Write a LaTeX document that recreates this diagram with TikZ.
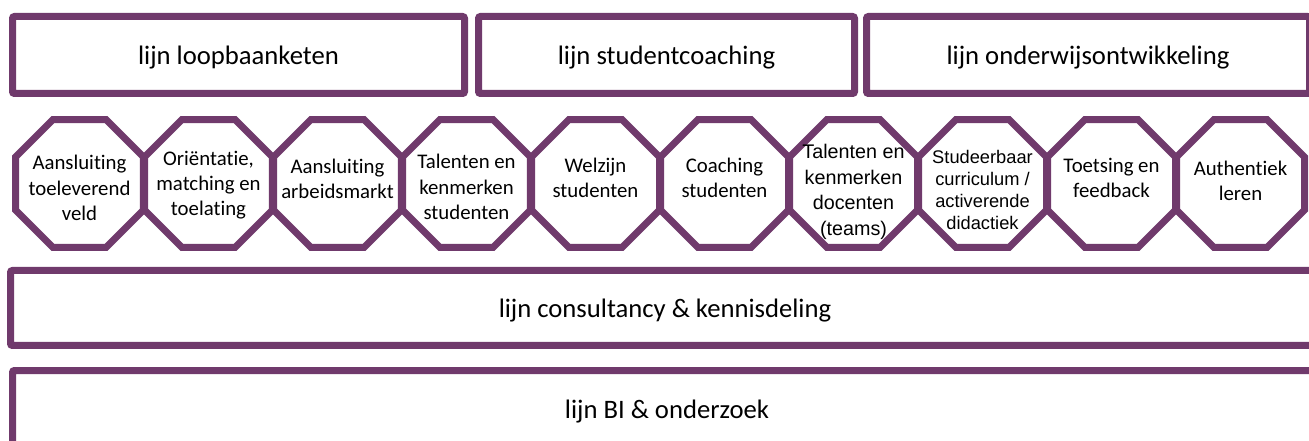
\documentclass[tikz,border=0pt]{standalone}
\usepackage{fontspec}
\setmainfont{Carlito}[Ligatures=NoCommon]
\newfontfamily\arialfont{Liberation Sans}
\usepackage{tikz}
\usetikzlibrary{shapes.geometric,shadows}
\definecolor{lijnpaars}{RGB}{112,58,108}
\tikzset{lijn/.style={rectangle,draw=lijnpaars,fill=white,line width=5.25pt,rounded corners=1.5pt,inner sep=0pt,text depth=0pt,font=\fontsize{20}{24}\selectfont,drop shadow={shadow xshift=1pt,shadow yshift=-2pt,opacity=0.22}}}
\tikzset{oct/.style={regular polygon,regular polygon sides=8,draw=lijnpaars,fill=white,line width=5.25pt,minimum size=103.9pt,inner sep=0pt,drop shadow={shadow xshift=1pt,shadow yshift=-2pt,opacity=0.22}}}
\tikzset{octtekst/.style={align=center,inner sep=0pt,font=\fontsize{15.6}{19}\selectfont}}
\tikzset{arialtekst/.style={font=\arialfont\fontsize{14.8}{19.3}\selectfont}}
\tikzset{arialklein/.style={font=\arialfont\fontsize{13.7}{16.4}\selectfont}}

\begin{document}
\begin{tikzpicture}[x=0.75pt,y=-0.75pt]
        \useasboundingbox (0,0) rectangle (1309,441);

        \node[lijn,minimum width=339pt,minimum height=57.75pt] (loopbaan) at (238.5,55) {lijn loopbaanketen};
        \node[lijn,minimum width=282pt,minimum height=57.75pt] (coaching) at (666.5,55) {lijn studentcoaching};
        \node[lijn,minimum width=332.25pt,minimum height=57.75pt] (onderwijs) at (1088,55) {lijn onderwijsontwikkeling};

        \foreach \i/\ty/\stijl/\txt in {
            1/188/octtekst/{Aansluiting\\toeleverend\\veld},
            2/185/octtekst/{Oriëntatie,\\matching en\\toelating},
            3/179/octtekst/{Aansluiting\\arbeidsmarkt},
            4/187/octtekst/{Talenten en\\kenmerken\\studenten},
            5/178/octtekst/{Welzijn\\studenten},
            6/178/octtekst/{Coaching\\studenten},
            7/192/arialtekst/{Talenten en\\kenmerken\\docenten\\(teams)},
            8/190/arialklein/{Studeerbaar\\curriculum /\\activerende\\didactiek},
            9/178/octtekst/{Toetsing en\\feedback},
            10/181/octtekst/{Authentiek\\leren}} {
            \node[oct] (o\i) at (79.5+129*\i-129,183.5) {};
            \node[octtekst,\stijl] (t\i) at (79.5+129*\i-129,\ty) {\txt};
        }

        \node[lijn,minimum width=981.75pt,minimum height=56.25pt] (consultancy) at (665,308) {lijn consultancy \& kennisdeling};
        \node[lijn,minimum width=981.75pt,minimum height=57.75pt] (onderzoek) at (667,409) {lijn BI \& onderzoek};
\end{tikzpicture}
\end{document}
